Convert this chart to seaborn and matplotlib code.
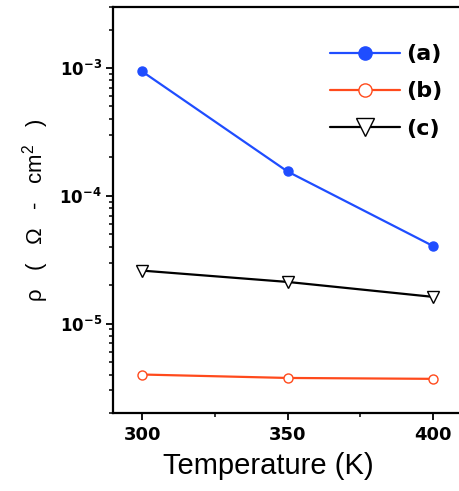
import numpy as np
import pandas as pd
import seaborn as sns
import matplotlib
matplotlib.use("Agg")
import matplotlib.pyplot as plt
from matplotlib.ticker import FixedLocator, NullFormatter, FuncFormatter
from matplotlib.lines import Line2D

temperature = [300, 350, 400]
rho_a = [9.4e-4, 1.55e-4, 4.05e-5]
rho_b = [4.0e-6, 3.76e-6, 3.7e-6]
rho_c = [2.6e-5, 2.12e-5, 1.62e-5]
labels = ["(a)", "(b)", "(c)"]
colors = ["#1f4dff", "#ff4a1c", "#000000"]

sns.set_style("ticks")
plt.rcParams['font.family'] = ['Liberation Sans', 'DejaVu Sans']
plt.rcParams['mathtext.default'] = 'regular'

df = pd.DataFrame({
    "T": temperature * 3,
    "rho": rho_a + rho_b + rho_c,
    "series": [labels[0]] * 3 + [labels[1]] * 3 + [labels[2]] * 3,
})

fig = plt.figure(figsize=(4.6, 4.91), dpi=100)
ax = fig.add_axes([113 / 460, 78 / 491, 352 / 460, 406 / 491])

markers = {"(a)": "o", "(b)": "o", "(c)": "v"}
mfc = {"(a)": colors[0], "(b)": "white", "(c)": "white"}
msize = {"(a)": 6.5, "(b)": 6.5, "(c)": 9}
for lab, col in zip(labels, colors):
    sub = df[df["series"] == lab]
    sns.lineplot(data=sub, x="T", y="rho", ax=ax, color=col, lw=1.6,
                 marker=markers[lab], markersize=msize[lab],
                 markerfacecolor=mfc[lab], markeredgecolor=col,
                 markeredgewidth=1.0, legend=False)

ax.set_yscale("log")
ax.set_xlim(290, 411)
ax.set_ylim(2.0e-6, 3.0e-3)

ax.xaxis.set_major_locator(FixedLocator([300, 350, 400]))
ax.xaxis.set_minor_locator(FixedLocator([325, 375]))
ax.yaxis.set_major_locator(FixedLocator([1e-6, 1e-5, 1e-4, 1e-3, 1e-2]))
minor_y = [m * 10.0 ** e for e in range(-6, -2) for m in range(2, 10)]
ax.yaxis.set_minor_locator(FixedLocator(minor_y))
ax.yaxis.set_minor_formatter(NullFormatter())
ax.yaxis.set_major_formatter(FuncFormatter(lambda v, p: r"10$^{%d}$" % int(round(np.log10(v)))))

ax.tick_params(which="major", direction="out", length=5, width=1.3, pad=4, color="black")
ax.tick_params(axis="x", which="major", labelsize=13)
ax.tick_params(axis="y", which="major", labelsize=12, pad=3)
ax.tick_params(axis="both", which="minor", direction="out", length=3, width=1.1,
               color="black", left=True, bottom=True)
for lab in ax.get_xticklabels() + ax.get_yticklabels():
    lab.set_fontweight("bold")
    lab.set_family("DejaVu Sans")
    lab.set_color("black")

for s in ax.spines.values():
    s.set_linewidth(1.6)
    s.set_color("black")

ax.set_xlabel("Temperature (K)", fontsize=21, color="black")
ax.xaxis.set_label_coords(0.44, -0.097)
ax.set_ylabel(r"ρ   (   Ω   -   cm$^{2}$   )", fontsize=16, labelpad=6, color="black")

handles = [
    Line2D([], [], color=colors[0], lw=1.6, marker="o", markersize=9.5, markerfacecolor=colors[0], markeredgecolor=colors[0]),
    Line2D([], [], color=colors[1], lw=1.6, marker="o", markersize=9.5, markerfacecolor="white", markeredgecolor=colors[1]),
    Line2D([], [], color="black", lw=1.6, marker="v", markersize=13, markerfacecolor="white", markeredgecolor="black"),
]
leg = ax.legend(handles, labels, loc="upper left", bbox_to_anchor=(0.616, 0.908), frameon=False,
                handlelength=3.15, labelspacing=0.77, handletextpad=0.3,
                borderpad=0, borderaxespad=0,
                prop={"family": "DejaVu Sans", "weight": "bold", "size": 16})
for t in leg.get_texts():
    t.set_color("black")

fig.savefig("out.png", dpi=100)
